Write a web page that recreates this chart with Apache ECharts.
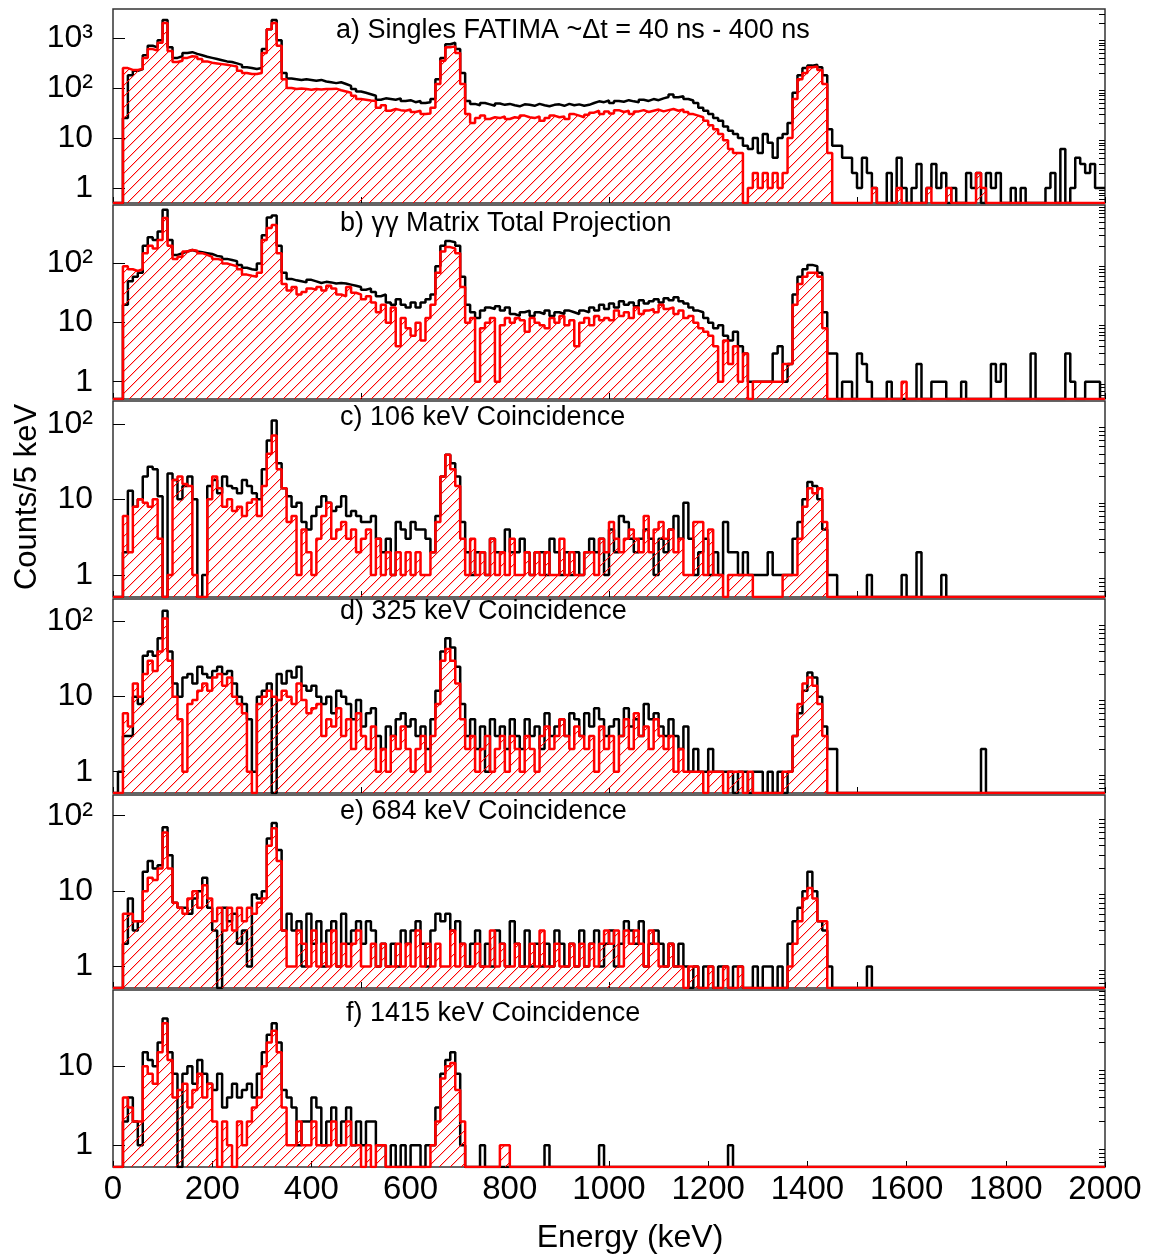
<!DOCTYPE html>
<html><head><meta charset="utf-8">
<script src="https://cdn.jsdelivr.net/npm/echarts@6/dist/echarts.min.js"></script>
<style>html,body{margin:0;padding:0;background:#fff}#c{width:1152px;height:1257px}</style>
</head><body><div id="c"></div>
<script>
// 10 keV bins from 0 to 2000 keV (200 bins per spectrum)
const binWidth = 10;

const aBlack = [
0,0,25,180,220,240,450,700,650,900,2300,650,400,430,500,520,480,450,420,400,
380,360,340,330,310,290,260,250,240,250,600,1500,2300,900,200,155,150,145,150,145,
140,145,135,130,125,130,120,110,95,85,80,75,70,58,62,60,58,62,55,57,
52,55,50,52,60,150,400,750,800,600,200,55,48,45,50,47,44,49,46,48,
45,43,47,46,44,48,45,43,46,47,44,48,45,47,44,46,50,54,52,56,
50,55,53,57,54,52,58,55,60,57,62,66,74,65,68,60,56,50,40,35,
30,25,22,17,14,12,10,7,6,10,5,12,8,4,10,12,20,80,180,250,
280,290,260,180,15,7,7,4,4,2,1,4,2,1,0,0,2,0,4,1,
0,1,3,0,1,3,1,2,0,1,0,0,2,1,2,0,2,1,2,0,
0,1,0,1,0,0,0,0,1,2,0,6,0,1,4,3,2,3,1,1];
const aRed = [
0,0,250,230,230,240,400,600,560,800,2000,550,330,350,400,430,420,380,340,320,
310,300,290,280,270,220,200,190,190,200,500,1500,2000,700,150,100,95,98,95,92,
95,93,95,95,97,90,85,80,70,60,58,56,55,40,45,35,38,36,35,37,
33,35,30,31,40,120,350,650,680,500,120,30,20,25,28,24,26,25,27,24,
26,25,28,26,25,27,22,25,28,26,27,24,30,28,26,29,32,35,30,34,
31,36,33,35,30,34,36,33,35,37,34,36,38,35,37,33,30,28,26,22,
18,15,12,9,6,5,5,0,1,2,1,2,1,2,1,2,10,60,150,200,
260,270,230,120,5,0,0,0,0,0,0,0,0,1,0,0,0,0,1,0,
0,0,0,0,1,0,0,0,1,0,0,0,0,0,2,1,0,0,0,0,
0,0,0,0,0,0,0,0,0,0,0,0,0,0,0,0,0,0,0,0];

const bBlack = [
0,0,20,50,60,70,200,280,250,350,815,250,140,150,160,170,160,155,150,145,
135,130,120,115,110,95,85,80,78,100,300,600,650,200,70,55,52,50,48,53,
50,47,49,48,46,47,46,44,42,40,36,38,33,28,30,22,20,25,20,18,
22,18,22,25,30,90,200,240,230,200,60,20,15,12,16,18,17,19,16,18,
14,13,15,16,13,15,14,16,13,15,14,16,15,14,16,15,18,16,20,17,
21,18,23,20,22,19,24,21,23,25,22,26,24,27,23,21,18,16,15,12,
10,8,9,6,5,7,4,3,1,1,1,1,1,3,4,1,2,30,60,80,
95,90,70,15,3,3,0,1,1,0,3,2,1,0,0,0,1,0,0,0,
0,0,2,0,0,1,1,1,0,0,0,1,0,0,0,0,0,2,1,2,
0,0,0,0,0,3,0,0,0,0,0,0,3,1,0,0,1,1,1,0];
const bRed = [
0,0,90,80,75,80,150,200,180,250,590,200,120,130,160,170,165,150,140,130,
120,115,100,95,90,80,65,62,60,70,250,400,450,150,45,35,40,30,33,38,
36,40,35,42,38,30,28,40,32,30,25,28,22,15,20,10,18,4,12,8,
6,10,5,12,20,70,160,190,180,150,40,10,12,1,8,10,12,1,9,12,
10,12,11,7,12,10,9,8,12,10,13,9,11,4,10,12,9,13,11,12,
11,16,13,15,12,18,14,16,17,15,20,17,18,14,16,12,13,10,8,7,
6,4,1,5,2,4,1,3,0,1,1,1,1,1,1,2,2,20,45,60,
70,70,60,8,0,0,0,0,0,0,0,0,0,0,0,0,0,0,0,1,
0,0,0,0,0,0,0,0,0,0,0,0,0,0,0,0,0,0,0,0,
0,0,0,0,0,0,0,0,0,0,0,0,0,0,0,0,0,0,0,0];

const cBlack = [
0,0,2,13,8,10,20,27,25,11,0,22,18,10,15,20,10,0,1,15,
18,12,20,15,14,12,18,15,12,10,25,60,110,30,14,11,8,9,5,4,
6,8,11,9,7,8,11,6,7,6,5,5,6,3,2,3,1,5,4,3,
5,4,4,3,2,6,20,39,30,20,5,2,1,2,2,1,3,2,2,4,
2,2,3,2,1,2,2,1,3,2,1,2,1,2,1,2,3,2,3,1,
4,2,6,5,3,2,3,4,3,1,3,2,4,6,3,9,3,1,2,3,
1,2,1,5,2,2,1,2,1,1,1,1,2,1,1,1,1,3,5,10,
17,15,10,4,1,1,0,0,0,0,0,0,1,0,0,0,0,0,0,1,
0,0,2,0,0,0,0,1,0,0,0,0,0,0,0,0,0,0,0,0,
0,0,0,0,0,0,0,0,0,0,0,0,0,0,0,0,0,0,0,0];
const cRed = [
0,0,6,2,8,10,9,8,10,3,0,1,18,20,16,15,1,0,0,10,
20,14,8,10,7,8,6,9,10,6,15,40,70,25,14,5,6,1,4,2,
1,3,6,9,3,4,5,3,4,2,3,4,1,3,1,2,1,2,1,2,
1,2,1,1,2,5,20,39,25,15,3,1,3,1,2,1,3,1,2,1,
3,1,1,2,1,2,1,2,1,1,3,1,2,1,1,2,2,1,3,2,
5,3,2,3,4,3,2,6,2,4,5,3,4,2,3,1,1,5,5,1,
4,1,1,0,1,1,1,1,1,0,0,0,0,0,0,1,1,1,3,8,
14,12,14,5,0,0,0,0,0,0,0,0,0,0,0,0,0,0,0,0,
0,0,0,0,0,0,0,0,0,0,0,0,0,0,0,0,0,0,0,0,
0,0,0,0,0,0,0,0,0,0,0,0,0,0,0,0,0,0,0,0];

const dBlack = [
0,1,3,3,10,8,35,40,35,60,140,40,15,10,18,20,15,25,20,18,
22,25,20,22,15,10,8,5,1,10,12,15,0,20,15,22,18,25,14,12,
14,10,8,10,6,12,10,8,5,9,4,6,7,3,2,4,3,5,6,4,
5,3,4,2,5,12,40,60,45,25,8,3,5,2,4,1,5,3,4,2,
5,3,2,5,3,4,2,6,3,4,5,3,6,5,3,6,4,7,5,3,
4,5,3,7,4,5,3,8,5,6,4,3,5,3,2,4,1,2,1,1,
2,1,1,1,1,0,1,1,0,1,1,0,1,0,1,0,1,3,6,12,
21,18,10,4,2,2,0,0,0,0,0,0,0,0,0,0,0,0,0,0,
0,0,0,0,0,0,0,0,0,0,0,0,0,0,0,2,0,0,0,0,
0,0,0,0,0,0,0,0,0,0,0,0,0,0,0,0,0,0,0,0];
const dRed = [
0,0,6,4,15,10,20,30,22,40,110,30,10,5,1,8,9,12,15,12,
18,20,14,18,10,8,6,1,0,8,10,12,10,9,12,10,8,15,9,6,
7,8,3,5,4,7,3,5,2,6,3,2,4,1,2,1,3,2,4,2,
1,2,3,1,3,8,30,43,30,15,5,2,3,1,2,3,1,2,3,1,
3,2,1,3,2,1,3,4,2,3,5,3,2,4,3,2,3,1,4,2,
3,1,3,5,2,6,3,4,2,5,3,2,3,1,2,1,1,1,1,0,
1,1,1,0,1,1,1,0,1,0,0,0,0,0,0,1,1,3,8,15,
18,14,8,3,0,0,0,0,0,0,0,0,0,0,0,0,0,0,0,0,
0,0,0,0,0,0,0,0,0,0,0,0,0,0,0,0,0,0,0,0,
0,0,0,0,0,0,0,0,0,0,0,0,0,0,0,0,0,0,0,0];

const eBlack = [
0,0,2,8,3,4,18,25,20,22,70,30,7,6,6,5,8,10,15,6,
3,0,6,4,5,2,3,1,9,8,10,50,80,35,3,5,3,4,1,5,
2,4,1,3,4,1,5,2,3,4,2,4,3,1,2,1,2,1,3,2,
3,4,2,1,3,5,4,5,3,4,2,1,2,3,1,2,1,3,2,1,
4,2,1,3,1,2,1,2,1,3,2,1,2,1,3,1,2,3,1,2,
3,1,2,4,3,2,4,1,2,3,2,1,2,1,2,1,0,1,0,1,
1,0,1,1,0,1,1,0,0,1,0,1,1,0,1,0,2,4,6,10,
18,10,4,3,1,0,0,0,0,0,0,0,1,0,0,0,0,0,0,0,
0,0,0,0,0,0,0,0,0,0,0,0,0,0,0,0,0,0,0,0,
0,0,0,0,0,0,0,0,0,0,0,0,0,0,0,0,0,0,0,0];
const eRed = [
0,0,5,5,4,4,10,15,14,20,60,20,7,6,5,8,10,6,12,8,
4,6,3,6,3,6,4,6,5,7,8,40,68,25,3,1,1,3,2,1,
3,1,2,1,3,1,2,1,2,3,1,1,2,1,2,1,1,2,1,2,
1,3,1,2,1,2,1,1,3,1,2,1,1,2,1,1,3,1,2,1,
1,2,1,1,2,1,3,1,1,2,1,1,2,1,2,1,2,1,2,3,
2,3,1,3,2,3,2,1,3,2,1,1,2,1,1,0,1,1,0,0,
1,0,0,1,0,0,1,0,0,0,0,0,0,0,0,0,1,2,4,8,
11,8,4,4,0,0,0,0,0,0,0,0,0,0,0,0,0,0,0,0,
0,0,0,0,0,0,0,0,0,0,0,0,0,0,0,0,0,0,0,0,
0,0,0,0,0,0,0,0,0,0,0,0,0,0,0,0,0,0,0,0];

const fBlack = [
0,0,2,4,2,1,15,12,10,20,40,15,8,0,8,10,6,12,8,6,
5,8,3,4,6,4,5,6,4,8,15,25,35,20,5,4,3,1,2,2,
4,3,1,2,3,1,2,3,1,2,1,2,2,1,1,0,1,0,1,0,
1,1,0,1,1,3,8,12,15,8,1,0,0,0,1,0,0,0,0,0,
0,0,0,0,0,0,0,1,0,0,0,0,0,0,0,0,0,0,1,0,
0,0,0,0,0,0,0,0,0,0,0,0,0,0,0,0,0,0,0,0,
0,0,0,0,1,0,0,0,0,0,0,0,0,0,0,0,0,0,0,0,
0,0,0,0,0,0,0,0,0,0,0,0,0,0,0,0,0,0,0,0,
0,0,0,0,0,0,0,0,0,0,0,0,0,0,0,0,0,0,0,0,
0,0,0,0,0,0,0,0,0,0,0,0,0,0,0,0,0,0,0,0];
const fRed = [
0,0,4,3,2,2,10,8,6,15,35,12,4,5,6,3,5,8,4,6,
2,0,2,1,0,2,1,2,3,4,10,20,28,15,3,1,1,2,1,1,
2,1,1,1,2,1,1,2,1,1,0,1,0,1,1,0,0,0,0,0,
0,0,0,0,1,2,7,10,11,5,2,0,0,0,0,0,0,0,1,1,
0,0,0,0,0,0,0,0,0,0,0,0,0,0,0,0,0,0,0,0,
0,0,0,0,0,0,0,0,0,0,0,0,0,0,0,0,0,0,0,0,
0,0,0,0,0,0,0,0,0,0,0,0,0,0,0,0,0,0,0,0,
0,0,0,0,0,0,0,0,0,0,0,0,0,0,0,0,0,0,0,0,
0,0,0,0,0,0,0,0,0,0,0,0,0,0,0,0,0,0,0,0,
0,0,0,0,0,0,0,0,0,0,0,0,0,0,0,0,0,0,0,0];

const panelTitles = [
  'a) Singles FATIMA ~\u0394t = 40 ns - 400 ns',
  'b) \u03b3\u03b3 Matrix Total Projection',
  'c) 106 keV Coincidence',
  'd) 325 keV Coincidence',
  'e) 684 keV Coincidence',
  'f) 1415 keV Coincidence'
];
const yTickValues = [1, 10, 100, 1000];
const yTickTexts = ['1', '10', '10\u00b2', '10\u00b3'];
const xTickValues = [0,200,400,600,800,1000,1200,1400,1600,1800,2000];
const yAxisTitle = 'Counts/5 keV';
const xAxisTitle = 'Energy (keV)';

const blackSeries = [aBlack, bBlack, cBlack, dBlack, eBlack, fBlack];
const redSeries = [aRed, bRed, cRed, dRed, eRed, fRed];
const yMins = [0.5, 0.51, 0.51, 0.52, 0.52, 0.53];
const yMaxs = [3800, 980, 200, 200, 188, 92];

// layout
const gridLeft = 113, gridWidth = 992;
const gridTops = [9, 205, 401, 599, 795, 990];
const gridHeights = [194, 194, 196, 194, 193, 177];
const titleX = [336, 340, 340, 340, 340, 346];
const titleY = [31, 224, 418, 612, 812, 1014];
const FONT = '"Liberation Sans", Arial, Helvetica, sans-serif';

// red diagonal hatch tile, drawn pixel by pixel
const hatch = (function () {
  const n = 11;
  const c = document.createElement('canvas');
  c.width = n; c.height = n;
  const g = c.getContext('2d');
  g.clearRect(0, 0, n, n);
  g.fillStyle = 'rgb(255,0,0)';
  for (let i = 0; i < n; i++) g.fillRect(i, n - 1 - i, 1, 1);
  g.fillStyle = 'rgba(255,0,0,0.25)';
  for (let i = 0; i < n; i++) g.fillRect((i + 1) % n, n - 1 - i, 1, 1);
  return c;
})();

function steps(arr, floor) {
  const pts = arr.map((v, i) => [i * binWidth, v > 0 ? v : floor]);
  const last = arr[arr.length - 1];
  pts.push([arr.length * binWidth, last > 0 ? last : floor]);
  return pts;
}
function yLabel(v) {
  for (let i = 0; i < yTickValues.length; i++) {
    if (Math.abs(v - yTickValues[i]) < 1e-6 * yTickValues[i]) return yTickTexts[i];
  }
  return '';
}
function minorValues(min, max) {
  const out = [];
  for (let k = -1; k <= 4; k++) for (let m = 2; m <= 9; m++) {
    const v = m * Math.pow(10, k);
    if (v > min && v < max) out.push(v);
  }
  return out;
}

const grids = [], xAxes = [], yAxes = [], series = [], graphics = [];
for (let g = 0; g < 6; g++) {
  const last = g === 5;
  grids.push({ left: gridLeft, width: gridWidth, top: gridTops[g], height: gridHeights[g],
    show: true, borderColor: '#333', borderWidth: 1.5, backgroundColor: 'transparent' });
  xAxes.push({ type: 'value', gridIndex: g, min: 0, max: 2000, interval: last ? 200 : 500,
    axisLine: { show: false }, splitLine: { show: false },
    axisTick: { show: true, inside: true, length: 6, lineStyle: { color: '#000', width: 1 } },
    axisLabel: { show: last, margin: 6, fontSize: 33, fontFamily: FONT, color: '#000',
      formatter: v => (xTickValues.indexOf(v) >= 0 ? String(v) : '') } });
  yAxes.push({ type: 'log', logBase: 10, gridIndex: g, min: yMins[g], max: yMaxs[g],
    axisLine: { show: false }, splitLine: { show: false },
    axisTick: { show: true, inside: true, length: 12, lineStyle: { color: '#000', width: 1 } },
    axisLabel: { show: true, margin: 20, fontSize: 32, fontFamily: FONT, color: '#000',
      formatter: yLabel, showMinLabel: false, showMaxLabel: false } });
  yAxes.push({ type: 'log', logBase: 10, gridIndex: g, min: yMins[g], max: yMaxs[g],
    axisLine: { show: false }, splitLine: { show: false }, axisLabel: { show: false },
    axisTick: { show: true, inside: true, length: 6, customValues: minorValues(yMins[g], yMaxs[g]),
      lineStyle: { color: '#000', width: 1 } } });
  series.push({ type: 'line', xAxisIndex: g, yAxisIndex: 2 * g, step: 'end', symbol: 'none',
    data: steps(blackSeries[g], yMins[g]), lineStyle: { color: '#000', width: 2.5 }, z: 2, silent: true });
  series.push({ type: 'line', xAxisIndex: g, yAxisIndex: 2 * g, step: 'end', symbol: 'none',
    data: steps(redSeries[g], yMins[g]), color: '#ff0000', lineStyle: { color: '#ff0000', width: 2.5 },
    areaStyle: { color: { image: hatch, repeat: 'repeat' }, origin: 'start', opacity: 1 }, z: 3, silent: true });
  graphics.push({ type: 'text', x: titleX[g], y: titleY[g], z: 10,
    style: { text: panelTitles[g], font: '27px ' + FONT, fill: '#000', verticalAlign: 'middle' } });
}
graphics.push({ type: 'text', x: 27, y: 497, rotation: Math.PI / 2, z: 10,
  style: { text: yAxisTitle, font: '31px ' + FONT, fill: '#000', align: 'center', verticalAlign: 'middle' } });
graphics.push({ type: 'text', x: 630, y: 1238, z: 10,
  style: { text: xAxisTitle, font: '32px ' + FONT, fill: '#000', align: 'center', verticalAlign: 'middle' } });

const chart = echarts.init(document.getElementById('c'), null, { renderer: 'canvas' });
chart.setOption({
  animation: false,
  backgroundColor: '#fff',
  grid: grids, xAxis: xAxes, yAxis: yAxes, series: series, graphic: graphics
});
</script></body></html>
